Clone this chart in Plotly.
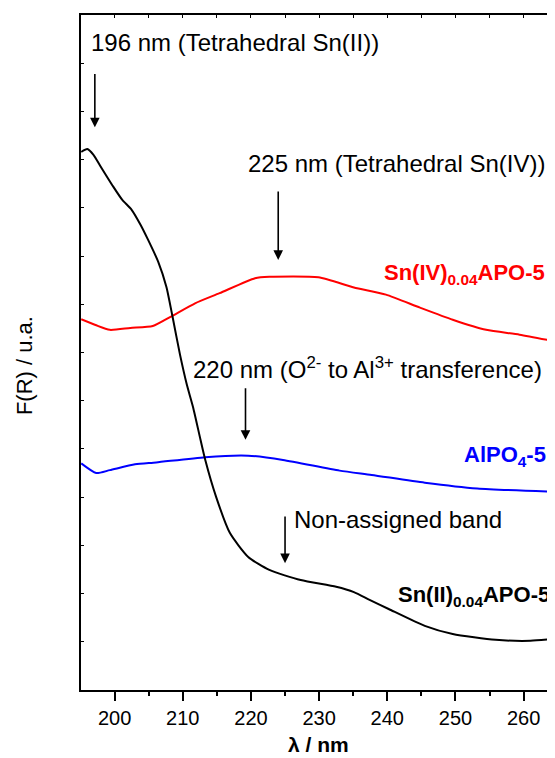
import plotly.graph_objects as go

# ---- data (wavelength in nm, F(R) in arbitrary units) ----
wl_sn2 = [195.1, 196.0, 196.9, 197.9, 199.8, 201.1, 202.5, 203.8, 204.9, 206.4, 207.6,
          208.5, 209.6, 210.6, 211.5, 212.6, 213.3, 214.9, 216.9, 219.6, 222.7, 227.3,
          232.5, 235.1, 237.4, 240.2, 245.5, 249.6, 255.9, 261.0, 264.6]
f_sn2 = [11.16, 11.22, 11.10, 10.87, 10.44, 10.17, 9.96, 9.65, 9.34, 8.88, 8.36,
         7.74, 6.95, 6.33, 5.87, 5.19, 4.77, 4.00, 3.26, 2.76, 2.49, 2.28,
         2.14, 2.03, 1.87, 1.68, 1.33, 1.16, 1.04, 1.02, 1.06]

wl_sn4 = [195.1, 197.2, 199.3, 202.3, 205.6, 208.2, 211.8, 215.4, 220.6, 222.7, 229.9,
          235.1, 239.8, 244.8, 249.6, 254.5, 259.4, 264.6]
f_sn4 = [7.69, 7.57, 7.47, 7.51, 7.55, 7.74, 8.02, 8.23, 8.54, 8.57, 8.56,
         8.35, 8.20, 7.93, 7.68, 7.47, 7.37, 7.23]

wl_alpo = [195.1, 197.3, 199.3, 203.0, 206.1, 213.3, 219.6, 224.7, 233.0, 237.7, 245.5,
           253.2, 264.6]
f_alpo = [4.70, 4.50, 4.56, 4.68, 4.72, 4.83, 4.86, 4.77, 4.55, 4.46, 4.30,
          4.18, 4.11]

x_ticks = [200, 210, 220, 230, 240, 250, 260]

FONT = "Liberation Sans, Arial, Helvetica, sans-serif"

fig = go.Figure()
fig.add_trace(go.Scatter(x=wl_sn4, y=f_sn4, mode="lines", line=dict(color="#ff0000", width=2, shape="spline", smoothing=0.6), hoverinfo="skip"))
fig.add_trace(go.Scatter(x=wl_alpo, y=f_alpo, mode="lines", line=dict(color="#0000ff", width=2, shape="spline", smoothing=0.6), hoverinfo="skip"))
fig.add_trace(go.Scatter(x=wl_sn2, y=f_sn2, mode="lines", line=dict(color="#000000", width=2, shape="spline", smoothing=0.6), hoverinfo="skip"))
# invisible trace to activate the top (mirror) axis
fig.add_trace(go.Scatter(x=wl_sn2, y=f_sn2, xaxis="x2", mode="lines", line=dict(color="rgba(0,0,0,0)", width=0), hoverinfo="skip"))

xr = [195.07, 264.6]

# the page body adds an 8 px margin, so the figure is 8 px smaller and margins compensate
fig.update_layout(
    width=547, height=750,
    margin=dict(l=73, r=0, t=7, b=68),
    paper_bgcolor="white", plot_bgcolor="white",
    showlegend=False,
    font=dict(family=FONT, color="black"),
    xaxis=dict(range=xr, showgrid=False, zeroline=False, showline=True, linewidth=2.2, linecolor="black",
               ticks="outside", ticklen=9, tickwidth=1.6, tickcolor="black",
               tickvals=x_ticks, ticktext=[str(v) for v in x_ticks],
               tickfont=dict(size=20, family=FONT, color="black"),
               minor=dict(ticks="outside", ticklen=4, tickwidth=1.6, tickcolor="black", dtick=5, tick0=195),
               ),
    xaxis2=dict(range=xr, overlaying="x", side="top", showgrid=False, zeroline=False, showline=True,
                linewidth=1.5, linecolor="black", ticks="inside", ticklen=3, tickwidth=1, tickcolor="black",
                dtick=5, tick0=195, showticklabels=False),
    yaxis=dict(range=[0, 14], showgrid=False, zeroline=False, showline=True, linewidth=2.2, linecolor="black",
               ticks="inside", ticklen=3, tickwidth=1, tickcolor="black", dtick=1, tick0=0,
               showticklabels=False),
)

def text_ann(x, y, text, anchor, size=24, color="black"):
    fig.add_annotation(x=x, y=y, xref="x", yref="y", text=text, showarrow=False,
                       xanchor=anchor, yanchor="middle", font=dict(size=size, color=color, family=FONT))

def arrow(x, y_tail, y_tip):
    fig.add_annotation(x=x, y=y_tip, ax=x, ay=y_tail, xref="x", yref="y", axref="x", ayref="y",
                       text="", showarrow=True, arrowhead=2, arrowsize=1.2, arrowwidth=1.6, arrowcolor="black")

text_ann(196.3, 13.44, "196 nm (Tetrahedral Sn(II))", "left")
arrow(197.1, 12.81, 11.67)
text_ann(219.3, 10.93, "225 nm (Tetrahedral Sn(IV))", "left")
arrow(224.0, 10.37, 8.92)
text_ann(211.2, 6.68, "220 nm (O<sup>2-</sup> to Al<sup>3+</sup> transference)", "left")
arrow(219.2, 6.29, 5.19)
text_ann(226.0, 3.53, "Non-assigned band", "left")
arrow(225.0, 3.63, 2.63)

text_ann(263.4, 8.62, "<b>Sn(IV)<sub>0.04</sub>APO-5</b>", "right", size=22, color="#ff0000")
text_ann(263.55, 4.85, "<b>AlPO<sub>4</sub>-5</b>", "right", size=22, color="#0000ff")
text_ann(264.2, 1.96, "<b>Sn(II)<sub>0.04</sub>APO-5</b>", "right", size=22)

fig.add_annotation(xref="paper", yref="paper", x=-0.12, y=0.48, text="F(R) / u.a.", textangle=-90,
                   showarrow=False, xanchor="center", yanchor="middle", font=dict(size=22, family=FONT))
fig.add_annotation(xref="paper", yref="paper", x=0.5, y=-0.08, text="<b>λ / nm</b>",
                   showarrow=False, xanchor="center", yanchor="middle", font=dict(size=21, family=FONT))

fig.write_html("out.html")
